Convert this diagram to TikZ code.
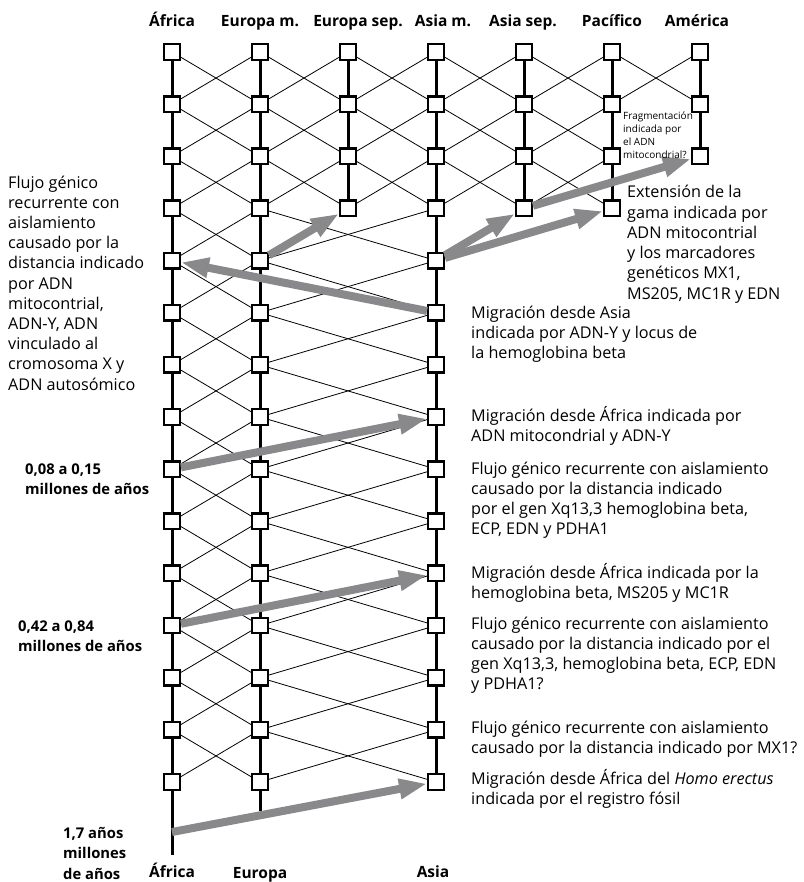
\documentclass[tikz,border=0pt]{standalone}
\usepackage{fontspec}
\setmainfont{Open Sans}
\usetikzlibrary{arrows.meta,backgrounds}
\definecolor{arrowgray}{RGB}{137,137,140}

\begin{document}
\begin{tikzpicture}[x=1pt, y=-1pt,
  cell/.style={draw=black, fill=white, line width=2.4pt, minimum size=15.5pt, inner sep=0pt},
  stem/.style={line width=3pt, line cap=butt},
  link/.style={line width=0.8pt},
  flow/.style={draw=arrowgray, line width=8pt, -{Triangle[length=28pt,width=19pt]}},
  region/.style={font=\bfseries\fontsize{15.5}{17}\selectfont, anchor=base, inner sep=0pt},
  note/.style={anchor=base west, align=left, inner sep=0pt, font=\fontsize{16.2}{20.2}\selectfont},
  age/.style={note, font=\bfseries\fontsize{14.8}{20.5}\selectfont},
  small/.style={note, font=\fontsize{10}{12.8}\selectfont}]
	\useasboundingbox (0,0) rectangle (803,882);
	% squares of each population
	\foreach \c/\x/\n in {afr/172/14, eum/260/14, eus/348/3, asm/436/14, asp/524/3, pac/612/3, ame/700/2}
		\foreach \r in {0,...,\n}
			\node[cell] (\c\r) at ({\x}, {52+52.14*\r}) {};
	\coordinate (afrend) at (172, 855);
	\coordinate (eumend) at (260, 811);
	\coordinate (afrfoot) at (172, 832);
	\begin{scope}[on background layer]
		\foreach \c/\n in {afr/14, eum/14, eus/3, asm/14, asp/3, pac/3, ame/2}
			\draw[stem] (\c0) -- (\c\n);
		\draw[stem] (afr14) -- (afrend);
		\draw[stem] (eum14) -- (eumend);
		% gene flow between neighbours
		\foreach \a/\b/\m/\k in {afr/eum/0/13, eum/eus/0/2, eus/asm/0/2, eum/asm/3/13, asm/asp/0/2, asp/pac/0/2, pac/ame/0/0}
			\foreach \r in {\m,...,\k} {
				\pgfmathtruncatemacro\s{\r+1}
				\draw[link] (\a\r) -- (\b\s);
				\draw[link] (\b\r) -- (\a\s);
			}
	\end{scope}
	% migrations
	\draw[flow] (eum4) -- (eus3);
	\draw[flow] (asm4) -- (asp3);
	\draw[flow] (asm4) -- (pac3);
	\draw[flow] (asp3) -- (ame2);
	\draw[flow] (asm5) -- (afr4);
	\draw[flow] (afr8) -- (asm7);
	\draw[flow] (afr11) -- (asm10);
	\draw[flow] (afrfoot) -- (asm14);
	% labels (base = last line)
	\node[region] (tafr) at (172, 27) {África};
	\node[region] (teum) at (260, 27) {Europa m.};
	\node[region] (teus) at (358, 27) {Europa sep.};
	\node[region] (tasm) at (443, 27) {Asia m.};
	\node[region] (tasp) at (523, 27) {Asia sep.};
	\node[region] (tpac) at (612, 27) {Pacífico};
	\node[region] (tame) at (697, 27) {América};
	\node[region] (bafr) at (172, 877) {África};
	\node[region] (beum) at (260, 878) {Europa};
	\node[region] (basm) at (433, 877) {Asia};
	\node[note] (left) at (8, 390) {Flujo génico\\recurrente con\\aislamiento\\causado por la\\distancia indicado\\por ADN\\mitocontrial,\\ADN-Y, ADN\\vinculado al\\cromosoma X y\\ADN autosómico};
	\node[age] (age1) at (25, 494.5) {0,08 a 0,15\\millones de años};
	\node[age] (age2) at (18, 651.5) {0,42 a 0,84\\millones de años};
	\node[age] (age3) at (63, 879) {1,7 años\\millones\\de años};
	\node[small] (frag) at (623, 158.4) {Fragmentación\\indicada por\\el ADN\\mitocondrial?};
	\node[note] (ext) at (627, 299) {Extensión de la\\gama indicada por\\ADN mitocontrial\\y los marcadores\\genéticos MX1,\\MS205, MC1R y EDN};
	\node[note] (n1) at (471, 358.4) {Migración desde Asia\\indicada por ADN-Y y locus de\\la hemoglobina beta};
	\node[note] (n2) at (471, 441.2) {Migración desde África indicada por\\ADN mitocondrial y ADN-Y};
	\node[note] (n3) at (471, 534.6) {Flujo génico recurrente con aislamiento\\causado por la distancia indicado\\por el gen Xq13,3 hemoglobina beta,\\ECP, EDN y PDHA1};
	\node[note] (n4) at (471, 598.2) {Migración desde África indicada por la\\hemoglobina beta, MS205 y MC1R};
	\node[note] (n5) at (471, 689.6) {Flujo génico recurrente con aislamiento\\causado por la distancia indicado por el\\gen Xq13,3, hemoglobina beta, ECP, EDN\\y PDHA1?};
	\node[note] (n6) at (471, 753.2) {Flujo génico recurrente con aislamiento\\causado por la distancia indicado por MX1?};
	\node[note] (n7) at (471, 804.2) {Migración desde África del \textit{Homo erectus}\\indicada por el registro fósil};
\end{tikzpicture}
\end{document}
